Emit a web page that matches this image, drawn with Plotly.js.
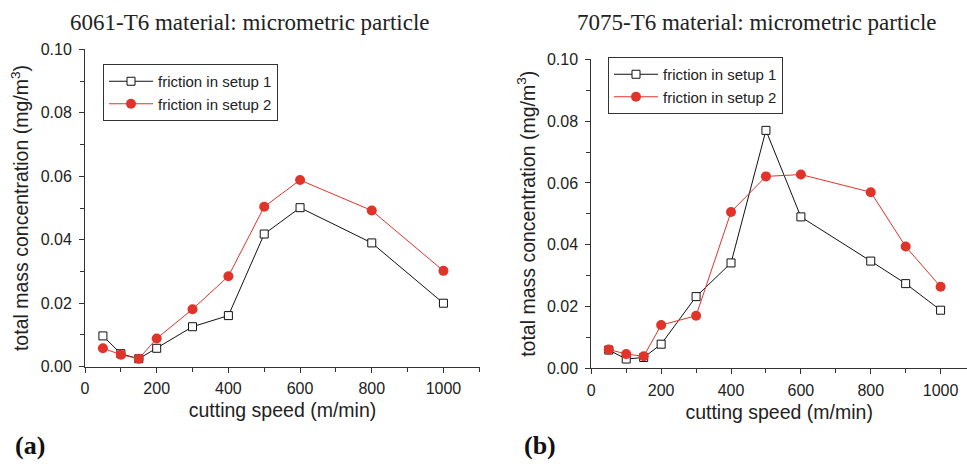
<!DOCTYPE html>
<html><head><meta charset="utf-8">
<script src="https://cdn.plot.ly/plotly-3.0.1.min.js"></script>
<style>html,body{margin:0;padding:0;background:#fff}</style>
</head><body><div id="chart" style="width:967px;height:464px"></div>
<script>
// ---- data ----
const speedA = [50, 100, 150, 200, 300, 400, 500, 600, 800, 1000];
const a_setup1 = [0.0097, 0.0041, 0.0025, 0.0058, 0.0126, 0.0161, 0.0418, 0.0501, 0.0390, 0.0200];
const a_setup2 = [0.0058, 0.0038, 0.0025, 0.0089, 0.0181, 0.0285, 0.0504, 0.0588, 0.0492, 0.0302];

const speedB = [50, 100, 150, 200, 300, 400, 500, 600, 800, 900, 1000];
const b_setup1 = [0.0059, 0.0030, 0.0035, 0.0078, 0.0232, 0.0341, 0.0770, 0.0490, 0.0347, 0.0274, 0.0188];
const b_setup2 = [0.0061, 0.0046, 0.0039, 0.0140, 0.0170, 0.0506, 0.0621, 0.0627, 0.0570, 0.0394, 0.0264];

const seriesNames = ["friction in setup 1", "friction in setup 2"];
const titleA = "6061-T6 material: micrometric particle";
const titleB = "7075-T6 material: micrometric particle";
const xTitle = "cutting speed (m/min)";
const yTitle = "total mass concentration (mg/m<sup>3</sup>)";
const xTicks = [0, 200, 400, 600, 800, 1000];
const xTickText = ["0", "200", "400", "600", "800", "1000"];
const yTicks = [0, 0.02, 0.04, 0.06, 0.08, 0.10];
const yTickText = ["0.00", "0.02", "0.04", "0.06", "0.08", "0.10"];

const W = 967, H = 464;
const RED = "#e2332b";
const s1 = (x, y, xa, ya, lg) => ({x, y, xaxis: xa, yaxis: ya, legend: lg, name: seriesNames[0], type: "scatter", mode: "lines+markers",
  line: {color: "#111", width: 1}, marker: {symbol: "square", size: 8, color: "#fff", line: {color: "#111", width: 1}}});
const s2 = (x, y, xa, ya, lg) => ({x, y, xaxis: xa, yaxis: ya, legend: lg, name: seriesNames[1], type: "scatter", mode: "lines+markers",
  line: {color: RED, width: 1}, marker: {symbol: "circle", size: 10, color: RED}});

const traces = [
  s1(speedA, a_setup1, "x", "y", "legend"),
  s2(speedA, a_setup2, "x", "y", "legend"),
  s1(speedB, b_setup1, "x2", "y2", "legend2"),
  s2(speedB, b_setup2, "x2", "y2", "legend2")
];

const SANS = "Liberation Sans, Arial, sans-serif";
const SERIF = "Liberation Serif, Times New Roman, serif";
const tickFont = {family: SANS, size: 16, color: "#222"};
const titleFont = {family: SANS, size: 19.5, color: "#222"};
function xax(domain, range, anchor) {
  return {domain, range, anchor, showline: true, linecolor: "#333", linewidth: 1, ticks: "outside", ticklen: 5, tickcolor: "#333",
    tickvals: xTicks, ticktext: xTickText, tickfont: tickFont, ticklabelstandoff: 2,
    showgrid: false, zeroline: false, minor: {dtick: 100, tick0: 0, ticks: "outside", ticklen: 4, tickcolor: "#333", showgrid: false},
    title: {text: xTitle, font: titleFont, standoff: 7}};
}
function yax(domain, anchor) {
  return {domain, range: [0, 0.1], anchor, showline: true, linecolor: "#333", linewidth: 1, ticks: "outside", ticklen: 5, tickcolor: "#333",
    tickvals: yTicks, ticktext: yTickText, tickfont: tickFont, ticklabelstandoff: 4,
    showgrid: false, zeroline: false, minor: {dtick: 0.01, tick0: 0, ticks: "outside", ticklen: 4, tickcolor: "#333", showgrid: false},
    title: {text: yTitle, font: titleFont, standoff: 6}};
}
const legFont = {family: SANS, size: 15, color: "#222"};
const layout = {
  width: W, height: H, margin: {l: 0, r: 0, t: 0, b: 0}, paper_bgcolor: "#fff", plot_bgcolor: "#fff",
  xaxis: xax([85 / W, 480 / W], [0, 1102], "y"),
  yaxis: yax([1 - 366.7 / H, 1 - 49.3 / H], "x"),
  xaxis2: xax([591.3 / W, 1], [0, 1075.6], "y2"),
  yaxis2: yax([1 - 368.3 / H, 1 - 59.3 / H], "x2"),
  legend: {x: 103 / W, y: 1 - 64 / H, xanchor: "left", yanchor: "top", bordercolor: "#333", borderwidth: 1, bgcolor: "#fff", font: legFont, tracegroupgap: 0, itemwidth: 44},
  legend2: {x: 608 / W, y: 1 - 57 / H, xanchor: "left", yanchor: "top", bordercolor: "#333", borderwidth: 1, bgcolor: "#fff", font: legFont, tracegroupgap: 0, itemwidth: 44},
  showlegend: true,
  annotations: [
    {text: titleA, xref: "paper", yref: "paper", x: 250 / W, y: 1 - 22 / H, xanchor: "center", yanchor: "middle", showarrow: false,
      font: {family: SERIF, size: 23, color: "#222"}},
    {text: titleB, xref: "paper", yref: "paper", x: 757 / W, y: 1 - 22 / H, xanchor: "center", yanchor: "middle", showarrow: false,
      font: {family: SERIF, size: 23, color: "#222"}},
    {text: "<b>(a)</b>", xref: "paper", yref: "paper", x: 13 / W, y: 1 - 445 / H, xanchor: "left", yanchor: "middle", showarrow: false,
      font: {family: SERIF, size: 26, color: "#111"}},
    {text: "<b>(b)</b>", xref: "paper", yref: "paper", x: 522 / W, y: 1 - 445 / H, xanchor: "left", yanchor: "middle", showarrow: false,
      font: {family: SERIF, size: 26, color: "#111"}}
  ]
};
Plotly.newPlot("chart", traces, layout, {displayModeBar: false, staticPlot: true});
</script></body></html>
